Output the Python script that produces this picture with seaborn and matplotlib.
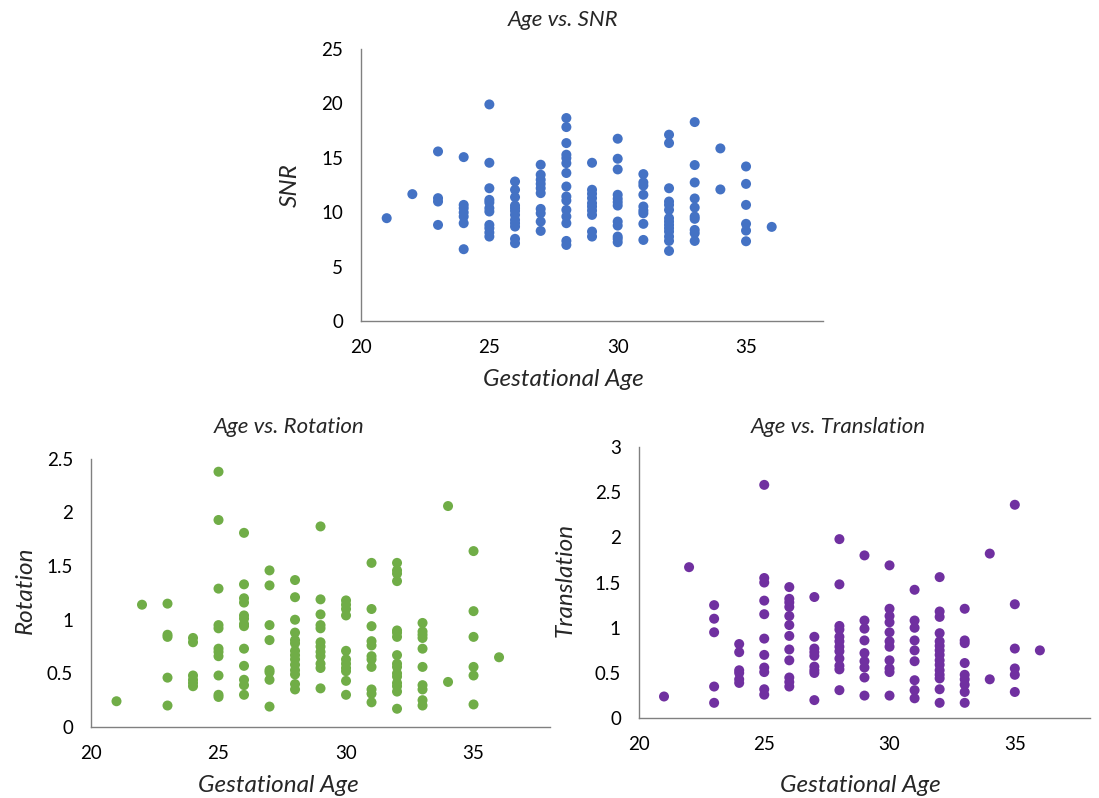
import pandas as pd
import seaborn as sns
import matplotlib.pyplot as plt

# Gestational ages (weeks) present in the data
ages = [21, 22, 23, 24, 25, 26, 27, 28, 29, 30, 31, 32, 33, 34, 35, 36]

# SNR values per age
snr = [
    [9.45],
    [11.66],
    [15.58, 11.29, 10.98, 8.83],
    [15.06, 10.67, 10.37, 9.97, 9.6, 8.99, 6.6],
    [19.9, 14.54, 12.2, 11.13, 10.89, 10.37, 10.06, 8.83, 8.53, 8.13, 7.76],
    [12.82, 12.06, 11.38, 10.61, 10.37, 10.12, 9.75, 9.29, 8.99, 8.68, 7.55, 7.15],
    [14.36, 13.44, 12.98, 12.6, 12.2, 11.75, 10.3, 9.9, 9.14, 8.28],
    [18.65, 17.82, 16.35, 15.28, 14.97, 14.5, 13.6, 12.36, 11.44, 11.07, 10.21, 9.6, 8.99, 7.36, 6.99],
    [14.54, 12.06, 11.69, 11.29, 10.83, 10.52, 10.15, 9.75, 8.22, 7.76],
    [16.75, 14.91, 13.93, 11.6, 11.23, 10.92, 10.61, 9.14, 8.77, 7.76, 7.55, 7.24],
    [13.5, 12.73, 12.45, 11.6, 10.52, 10.15, 9.9, 8.93, 7.45],
    [17.12, 16.35, 12.2, 10.98, 10.67, 10.21, 9.45, 9.14, 8.83, 8.53, 8.22, 7.76, 7.36, 6.44],
    [18.28, 14.33, 12.73, 11.26, 10.43, 9.6, 9.39, 8.37, 8.07, 7.36],
    [15.86, 12.09],
    [14.2, 12.6, 10.67, 8.93, 8.31, 7.33],
    [8.65],
]

# Rotation values per age
rotation = [
    [0.24],
    [1.14],
    [1.15, 0.86, 0.84, 0.46, 0.2],
    [0.83, 0.79, 0.48, 0.44, 0.41, 0.38],
    [2.38, 1.93, 1.29, 0.95, 0.92, 0.73, 0.70, 0.66, 0.48, 0.30, 0.28],
    [1.81, 1.33, 1.2, 1.16, 1.04, 1.01, 0.96, 0.94, 0.73, 0.57, 0.44, 0.39, 0.3],
    [1.46, 1.32, 0.95, 0.81, 0.53, 0.51, 0.44, 0.19],
    [1.37, 1.21, 1.0, 0.88, 0.81, 0.78, 0.71, 0.67, 0.63, 0.58, 0.53, 0.49, 0.4, 0.35],
    [1.87, 1.19, 1.05, 0.95, 0.92, 0.79, 0.75, 0.70, 0.66, 0.59, 0.55, 0.36],
    [1.18, 1.14, 1.10, 1.04, 0.71, 0.63, 0.59, 0.55, 0.52, 0.43, 0.30],
    [1.53, 1.10, 0.94, 0.80, 0.76, 0.66, 0.63, 0.56, 0.35, 0.31, 0.23],
    [1.53, 1.46, 1.43, 1.36, 0.90, 0.88, 0.84, 0.67, 0.59, 0.56, 0.50, 0.47, 0.41, 0.38, 0.33, 0.17],
    [0.97, 0.89, 0.86, 0.83, 0.73, 0.56, 0.39, 0.35, 0.25, 0.2],
    [2.06, 0.42],
    [1.64, 1.08, 0.84, 0.56, 0.48, 0.21],
    [0.65],
]

# Translation values per age
translation = [
    [0.24],
    [1.67],
    [1.25, 1.10, 0.95, 0.35, 0.17],
    [0.82, 0.73, 0.53, 0.50, 0.43, 0.39],
    [2.58, 1.55, 1.50, 1.30, 1.15, 0.88, 0.70, 0.56, 0.51, 0.32, 0.26],
    [1.45, 1.32, 1.28, 1.23, 1.13, 1.03, 0.91, 0.76, 0.64, 0.45, 0.40, 0.35],
    [1.34, 0.90, 0.77, 0.73, 0.69, 0.57, 0.53, 0.50, 0.20],
    [1.98, 1.48, 1.02, 0.98, 0.90, 0.85, 0.79, 0.74, 0.66, 0.58, 0.54, 0.31],
    [1.80, 1.08, 0.99, 0.86, 0.72, 0.63, 0.56, 0.45, 0.25],
    [1.69, 1.21, 1.13, 1.06, 0.95, 0.85, 0.79, 0.64, 0.55, 0.51, 0.25],
    [1.42, 1.08, 1.00, 0.86, 0.75, 0.63, 0.42, 0.31, 0.22],
    [1.56, 1.18, 1.12, 0.94, 0.85, 0.80, 0.75, 0.70, 0.64, 0.59, 0.53, 0.48, 0.44, 0.32, 0.17],
    [1.21, 0.86, 0.83, 0.61, 0.48, 0.43, 0.37, 0.29, 0.17],
    [1.82, 0.43],
    [2.36, 1.26, 0.77, 0.55, 0.48, 0.29],
    [0.75],
]


def to_frame(values):
    rows = [(a, v) for a, vals in zip(ages, values) for v in vals]
    return pd.DataFrame(rows, columns=["age", "value"])


sns.set_style("white")
plt.rcParams["font.family"] = ["Lato", "DejaVu Sans"]

fig = plt.figure(figsize=(10.99, 7.98), dpi=100)

# axes positions in figure fractions
ax_snr = fig.add_axes([0.3285, 0.5977, 0.4204, 0.341])
ax_rot = fig.add_axes([0.0828, 0.089, 0.4177, 0.336])
ax_tr = fig.add_axes([0.5814, 0.100, 0.4104, 0.340])

panels = [
    (ax_snr, snr, "#4472C4", 25, [0, 5, 10, 15, 20, 25], ["0", "5", "10", "15", "20", "25"]),
    (ax_rot, rotation, "#70AD47", 2.5, [0, 0.5, 1, 1.5, 2, 2.5], ["0", "0.5", "1", "1.5", "2", "2.5"]),
    (ax_tr, translation, "#7030A0", 3, [0, 0.5, 1, 1.5, 2, 2.5, 3], ["0", "0.5", "1", "1.5", "2", "2.5", "3"]),
]

for ax, vals, color, ymax, yt, ytl in panels:
    df = to_frame(vals)
    sns.scatterplot(data=df, x="age", y="value", ax=ax, color=color,
                    s=52, edgecolor="none", legend=False)
    ax.set_xlim(20, 38)
    ax.set_ylim(0, ymax)
    ax.set_xticks([20, 25, 30, 35])
    ax.set_xticklabels(["20", "25", "30", "35"])
    ax.set_yticks(yt)
    ax.set_yticklabels(ytl)
    ax.set_xlabel("")
    ax.set_ylabel("")
    for side in ["top", "right"]:
        ax.spines[side].set_visible(False)
    for side in ["left", "bottom"]:
        ax.spines[side].set_color("#808080")
        ax.spines[side].set_linewidth(1.0)
    ax.tick_params(axis="both", direction="out", length=5, width=1,
                   color="#808080", labelsize=13.5, labelcolor="black", pad=8)

title_kw = dict(fontsize=16, style="italic", ha="center", va="center")
label_kw = dict(fontsize=17.5, style="italic", ha="center", va="center")

# top panel text
fig.text(563 / 1099, 1 - 20 / 798, "Age vs. SNR", **title_kw)
fig.text(563 / 1099, 1 - 380 / 798, "Gestational Age", **label_kw)
fig.text(290 / 1099, 1 - 185 / 798, "SNR", rotation=90, **label_kw)

# bottom left text
fig.text(289 / 1099, 1 - 427 / 798, "Age vs. Rotation", **title_kw)
fig.text(278 / 1099, 1 - 785 / 798, "Gestational Age", **label_kw)
fig.text(25 / 1099, 1 - 590 / 798, "Rotation", rotation=90, **label_kw)

# bottom right text
fig.text(838 / 1099, 1 - 427 / 798, "Age vs. Translation", **title_kw)
fig.text(860 / 1099, 1 - 785 / 798, "Gestational Age", **label_kw)
fig.text(565 / 1099, 1 - 580 / 798, "Translation", rotation=90, **label_kw)

fig.savefig("out.png", dpi=100)
